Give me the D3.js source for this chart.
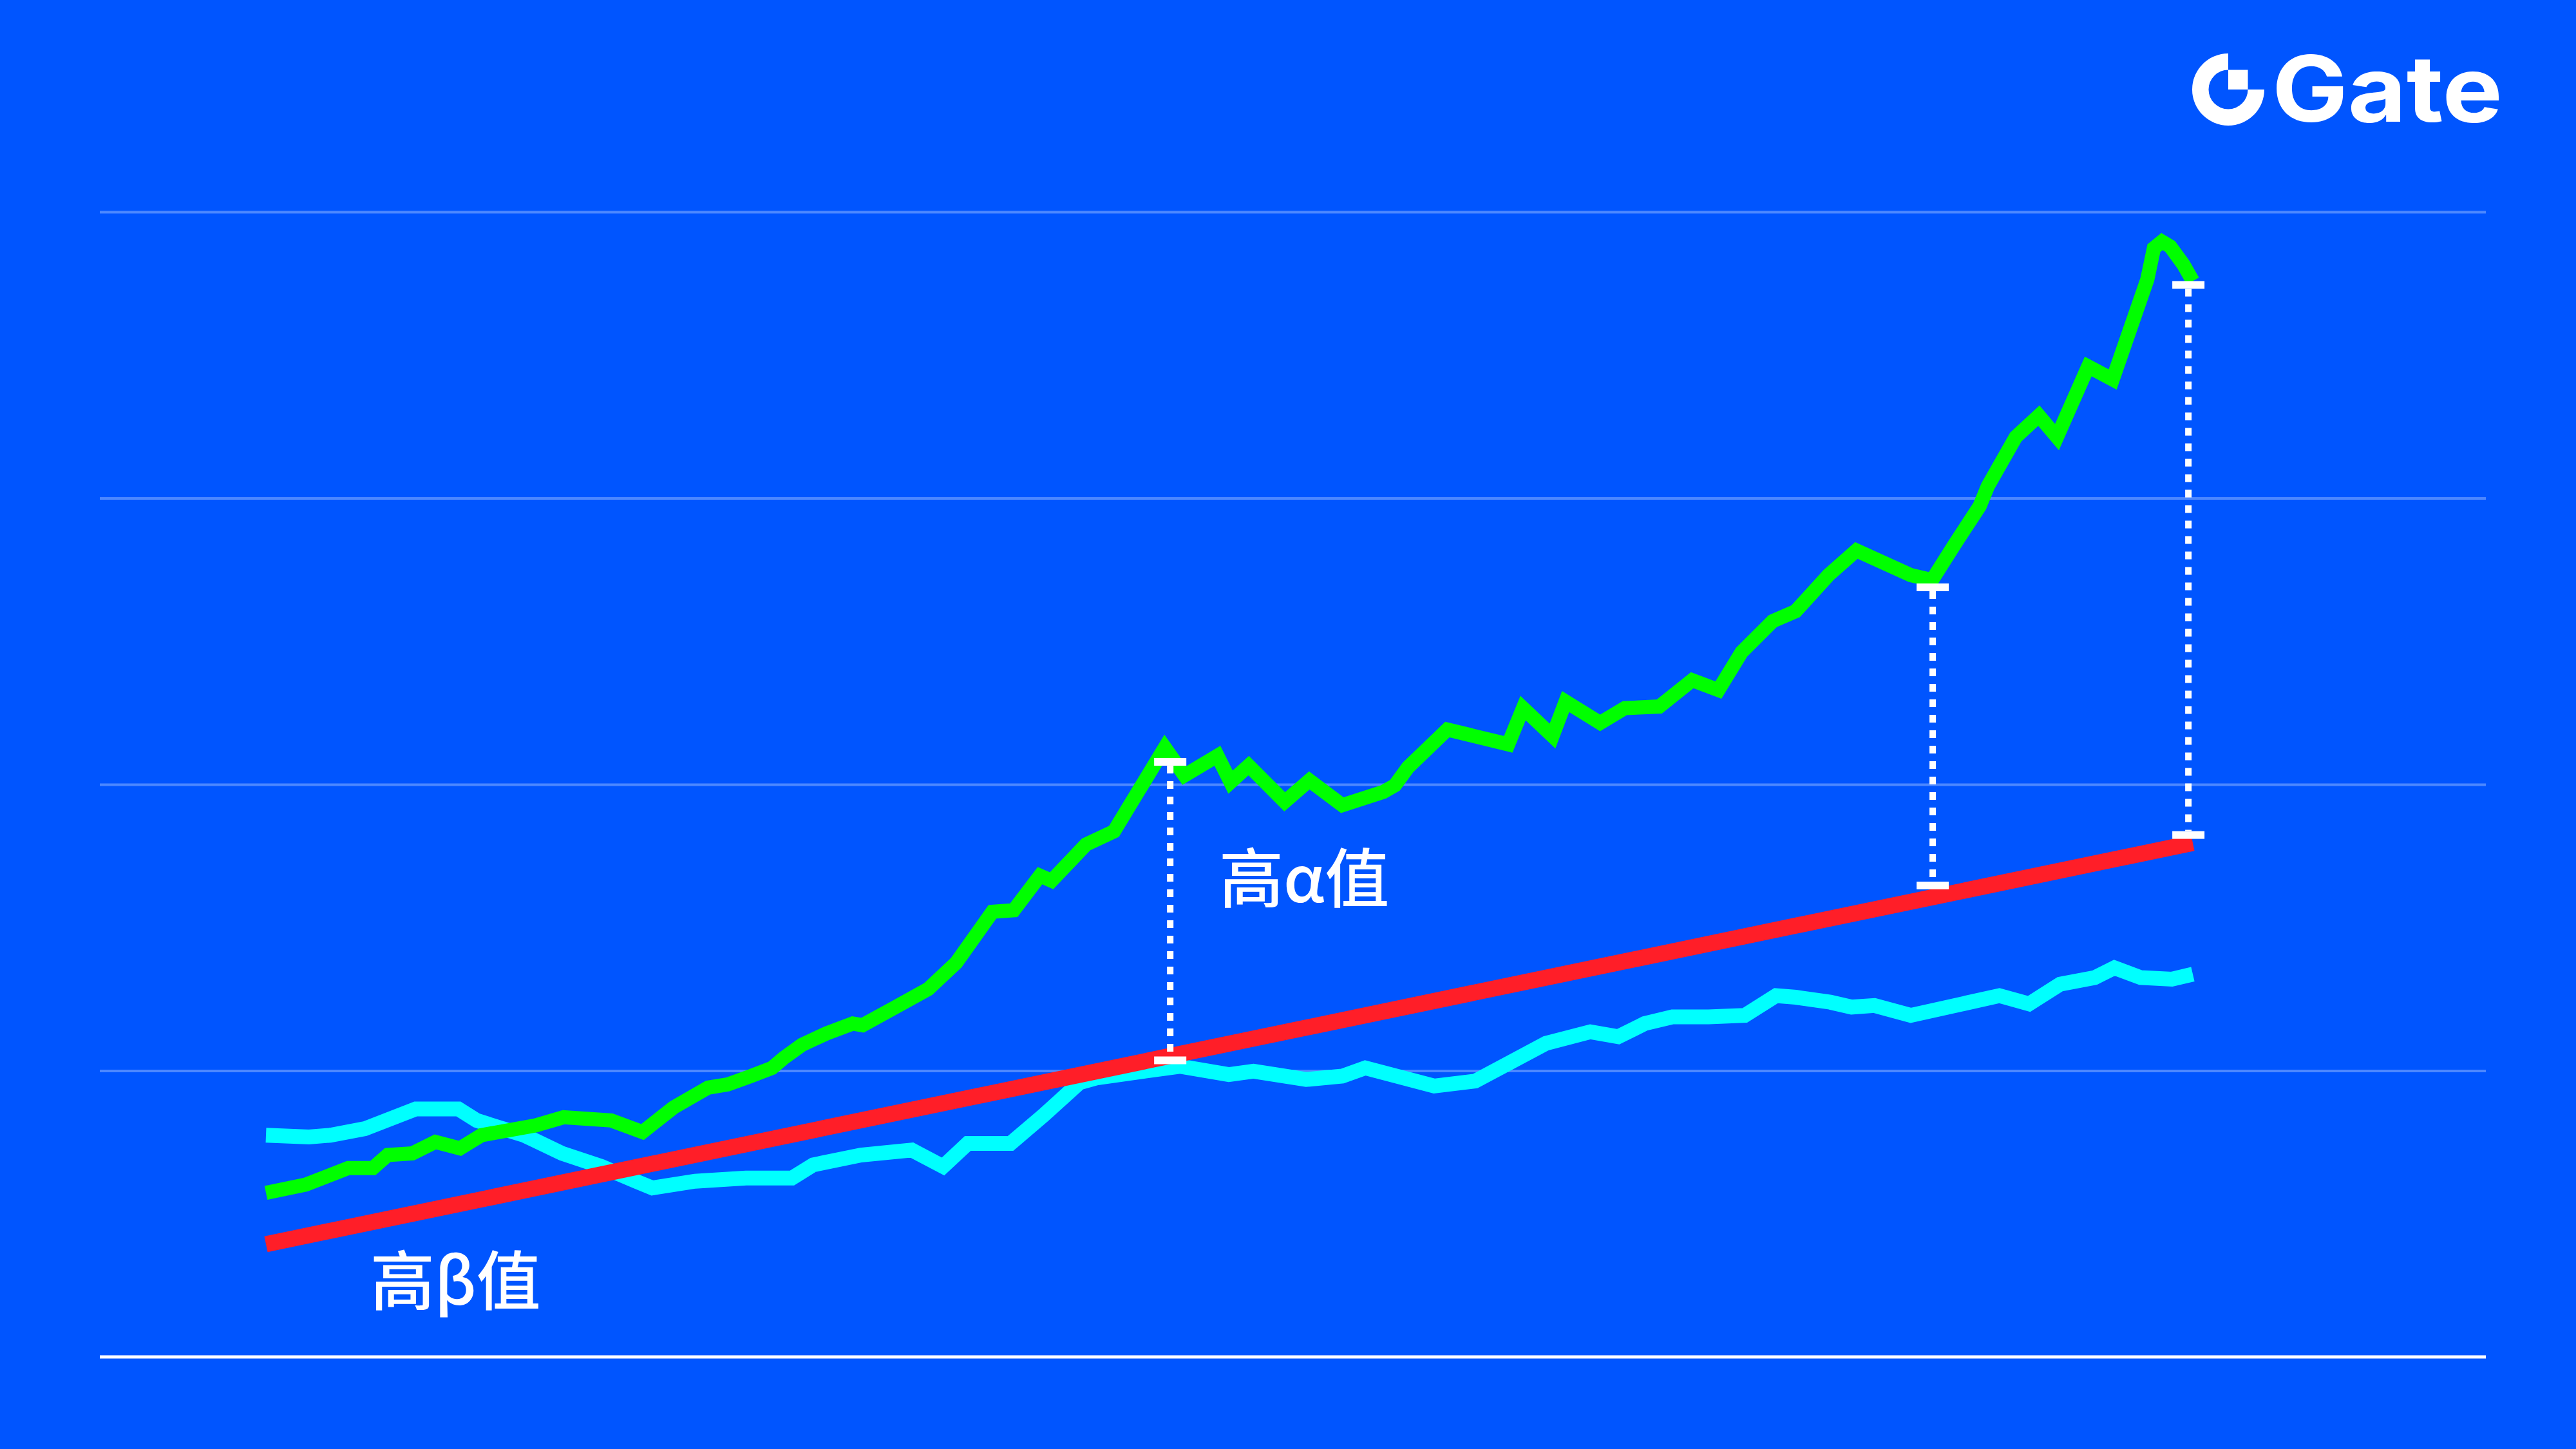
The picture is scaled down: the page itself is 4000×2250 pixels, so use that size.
<!DOCTYPE html>
<html><head><meta charset="utf-8">
<script src="https://cdn.jsdelivr.net/npm/d3@7"></script>
<style>html,body{margin:0;padding:0;background:#0055FF;overflow:hidden}</style>
</head><body><svg id="chart" width="4000" height="2250"></svg>
<script>
// ---- data ----
const greenX = [0,2.06,4.27,5.55,6.32,7.60,8.79,10.07,11.18,13.99,15.44,17.92,19.54,21.16,22.95,23.97,25.16,26.27,26.87,27.81,29.09,30.45,30.96,32.67,34.37,35.82,37.70,38.81,40.17,40.77,42.56,44.01,46.65,47.67,49.38,50.06,51.00,52.87,54.15,55.86,57.99,58.59,59.27,61.31,64.47,65.24,66.77,67.45,69.24,70.52,72.31,74.02,75.38,76.58,78.20,79.39,81.09,82.54,85.36,86.47,87.66,88.94,89.36,90.81,92.01,92.95,94.57,95.84,97.64,97.98,98.40,98.83,99.51,100];
const greenY = [14.33,15.05,16.49,16.49,17.63,17.78,18.78,18.21,19.36,20.22,20.93,20.65,19.64,21.79,23.52,23.80,24.52,25.24,26.10,27.25,28.25,29.11,28.97,30.55,32.13,34.42,38.87,39.01,42.03,41.59,44.75,45.90,53.22,50.78,52.50,50.20,51.64,48.48,50.35,48.19,49.34,49.92,51.49,54.79,53.50,56.66,54.22,57.23,55.37,56.66,56.80,59.10,58.24,61.54,64.26,65.13,68.28,70.43,68.28,67.85,71.01,74.31,76.03,80.33,82.20,80.33,86.50,85.36,94.11,96.83,97.41,96.98,95.40,93.96];
const cyanX = [0,2.23,3.34,5.13,7.77,9.99,10.93,12.03,13.40,15.36,17.41,19.20,20.05,22.27,24.91,27.30,28.40,30.88,33.52,35.14,36.42,38.64,40.34,41.28,42.22,43.15,47.42,49.97,51.25,53.98,55.86,57.05,60.63,62.76,66.43,68.73,70.18,71.55,72.99,74.87,76.75,78.37,79.39,81.18,82.29,83.48,85.36,89.96,91.50,93.12,94.91,95.93,97.29,98.91,100];
const cyanY = [19.36,19.21,19.36,19.93,21.65,21.65,20.65,20.07,19.36,17.78,16.63,15.34,14.76,15.34,15.62,15.62,16.77,17.63,18.06,16.63,18.64,18.64,21.08,22.51,23.95,24.38,25.38,24.66,24.95,24.23,24.52,25.24,23.66,24.09,27.39,28.39,27.96,29.11,29.69,29.69,29.83,31.55,31.41,30.98,30.55,30.69,29.83,31.55,30.83,32.56,33.13,33.99,33.13,32.99,33.42];
const redX = [0,100];
const redY = [9.84,44.88];
const alphaX = [46.93,86.50,99.77];
const alphaTop = [51.97,67.21,93.62];
const alphaBottom = [25.90,41.17,45.58];
const gridTicks = [25,50,75,100];
const baseTick = 0;
const alphaLabel = "高α值";
const betaLabel = "高β值";
const logoText = "Gate";

// ---- layout ----
const W = 4000, H = 2250;
const svg = d3.select("#chart");
svg.append("rect").attr("width",W).attr("height",H).attr("fill","#0055FF");

const x = d3.scaleLinear().domain([0,100]).range([413,3405]);
const y = d3.scaleLinear().domain([0,100]).range([2107,329]);
const gridLeft = 155, gridRight = 3860;

// gridlines via axis
const gAxis = svg.append("g").attr("transform",`translate(${gridLeft},0)`)
  .call(d3.axisLeft(y).tickValues(gridTicks).tickSize(-(gridRight-gridLeft)).tickFormat(""));
gAxis.select(".domain").remove();
gAxis.selectAll(".tick line").attr("stroke","#4D88FF").attr("stroke-width",4);

// bottom baseline
svg.append("line").attr("x1",155).attr("x2",gridRight)
  .attr("y1",y(baseTick)).attr("y2",y(baseTick))
  .attr("stroke","#FFFFFF").attr("stroke-width",5);

const line = d3.line().x(d=>x(d[0])).y(d=>y(d[1])).curve(d3.curveLinear);
const zip = (a,b)=>a.map((v,i)=>[v,b[i]]);

svg.append("path").datum(zip(cyanX,cyanY)).attr("d",line)
  .attr("fill","none").attr("stroke","#00FFFF").attr("stroke-width",23)
  .attr("stroke-linejoin","miter").attr("stroke-linecap","butt");
svg.append("path").datum(zip(greenX,greenY)).attr("d",line)
  .attr("fill","none").attr("stroke","#00FF00").attr("stroke-width",22)
  .attr("stroke-linejoin","miter").attr("stroke-miterlimit",4).attr("stroke-linecap","butt");
svg.append("path").datum(zip(redX,redY)).attr("d",line)
  .attr("fill","none").attr("stroke","#FF1E28").attr("stroke-width",25)
  .attr("stroke-linecap","butt");

// alpha annotations
const ann = svg.append("g");
alphaX.forEach((ax,i)=>{
  const cx = x(ax);
  ann.append("line").attr("x1",cx).attr("x2",cx)
    .attr("y1",y(alphaTop[i])+6).attr("y2",y(alphaBottom[i])-6)
    .attr("stroke","#FFFFFF").attr("stroke-width",10).attr("stroke-dasharray","12 12");
  [alphaTop[i],alphaBottom[i]].forEach(v=>{
    ann.append("rect").attr("x",cx-25).attr("y",y(v)-6).attr("width",50).attr("height",12).attr("fill","#FFFFFF");
  });
});

// labels
const font = "'Noto Sans CJK SC','Noto Sans',sans-serif";
svg.append("text").attr("x",1893).attr("y",1401).text(alphaLabel)
  .attr("font-family",font).attr("font-size",100).attr("font-weight",500).attr("fill","#FFFFFF");
svg.append("text").attr("x",575).attr("y",2026).text(betaLabel)
  .attr("font-family",font).attr("font-size",100).attr("font-weight",500).attr("fill","#FFFFFF");

// logo
const logo = svg.append("g");
const lcx = 3460, lcy = 139;
logo.append("path").attr("transform",`translate(${lcx},${lcy})`)
  .attr("d", d3.arc()({innerRadius:30.5, outerRadius:56, startAngle:Math.PI/2, endAngle:2*Math.PI}))
  .attr("fill","#FFFFFF");
logo.append("rect").attr("x",lcx).attr("y",lcy-30.5).attr("width",30.5).attr("height",30.5).attr("fill","#FFFFFF");
logo.append("text").attr("x",3528).attr("y",189).text(logoText)
  .attr("font-family","Inter, 'Open Sans', sans-serif").attr("font-size",142).attr("font-weight",700)
  .attr("textLength",358).attr("lengthAdjust","spacingAndGlyphs").attr("fill","#FFFFFF");
</script>
</body></html>
